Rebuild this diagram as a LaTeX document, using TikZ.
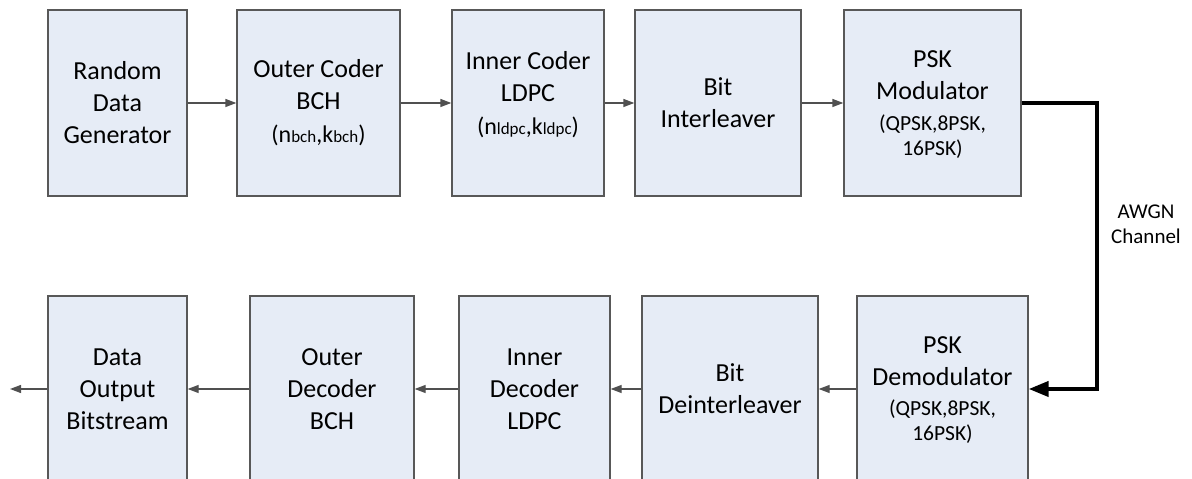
\documentclass[tikz,border=0pt]{standalone}
\usepackage{fontspec}
\setmainfont{Carlito}
\usetikzlibrary{arrows.meta}

\newcommand\smallline{\fontsize{21.5}{25}\selectfont}
\newcommand\pairline{\fontsize{24}{28}\selectfont}
\newcommand\subtext[1]{{\fontsize{17}{17}\selectfont #1}}

\definecolor{boxfill}{RGB}{230,236,246}
\definecolor{boxline}{RGB}{88,88,88}
\definecolor{flowline}{RGB}{80,80,80}

\tikzset{
  block/.style={draw=boxline, fill=boxfill, line width=1.3pt,
    minimum height=186pt, inner sep=0pt},
  blocktext/.style={align=center, inner sep=0pt,
    font=\fontsize{26}{32}\selectfont},
  sidetext/.style={align=center, inner sep=0pt,
    font=\fontsize{21}{25}\selectfont},
  flow/.style={draw=flowline, line width=1.3pt,
    -{Triangle[length=11pt,width=8pt]}},
  channel/.style={draw=black, line width=4pt, line join=miter,
    -{Triangle[length=20pt,width=15pt]}}
}

\begin{document}
\begin{tikzpicture}[x=1pt,y=1pt]
\useasboundingbox (0,0) rectangle (1192,479);
\clip (0,0) rectangle (1192,479);

% transmitter chain
\node[block, minimum width=139pt] (gen) at (117.5,376) {};
\node[block, minimum width=163pt] (bchenc) at (318.5,376) {};
\node[block, minimum width=152pt] (ldpcenc) at (528,376) {};
\node[block, minimum width=166pt] (intl) at (718,376) {};
\node[block, minimum width=177pt] (mod) at (932.5,376) {};

% receiver chain
\node[block, minimum width=139pt] (sink) at (117.5,90) {};
\node[block, minimum width=164pt] (bchdec) at (332,90) {};
\node[block, minimum width=151pt] (ldpcdec) at (534.5,90) {};
\node[block, minimum width=176pt] (deintl) at (730,90) {};
\node[block, minimum width=171pt] (demod) at (942.5,90) {};

% block captions
\node[blocktext] (gent) at (gen) {Random\\Data\\Generator};
\node[blocktext] (bchenct) at (bchenc) {Outer Coder\\BCH\\[1pt]
  \pairline (n\subtext{bch},k\subtext{bch})};
\node[blocktext] (ldpcenct) at ([yshift=8pt]ldpcenc.center) {Inner Coder\\LDPC\\[1pt]
  \pairline (n\subtext{ldpc},k\subtext{ldpc})};
\node[blocktext] (intlt) at (intl) {Bit\\Interleaver};
\node[blocktext] (modt) at ([yshift=-2pt]mod.center) {PSK\\Modulator\\[-1pt]
  \smallline (QPSK,8PSK,\\[-7pt]\smallline 16PSK)};

\node[blocktext] (sinkt) at (sink) {Data\\Output\\Bitstream};
\node[blocktext] (bchdect) at (bchdec) {Outer\\Decoder\\BCH};
\node[blocktext] (ldpcdect) at (ldpcdec) {Inner\\Decoder\\LDPC};
\node[blocktext] (deintlt) at (deintl) {Bit\\Deinterleaver};
\node[blocktext] (demodt) at ([yshift=-1pt]demod.center) {PSK\\Demodulator\\[-2pt]
  \smallline (QPSK,8PSK,\\[-7pt]\smallline 16PSK)};

% connectors
\draw[flow] (gen) -- (bchenc);
\draw[flow] (bchenc) -- (ldpcenc);
\draw[flow] (ldpcenc) -- (intl);
\draw[flow] (intl) -- (mod);

\coordinate (bend) at (1097,376);
\draw[channel] (mod.east) -- (bend) |- (demod.east);
\node[sidetext] (awgn) at (1146,255) {AWGN\\Channel};

\draw[flow] (demod) -- (deintl);
\draw[flow] (deintl) -- (ldpcdec);
\draw[flow] (ldpcdec) -- (bchdec);
\draw[flow] (bchdec) -- (sink);
\coordinate (out) at (10,90);
\draw[flow] (sink) -- (out);
\end{tikzpicture}
\end{document}
